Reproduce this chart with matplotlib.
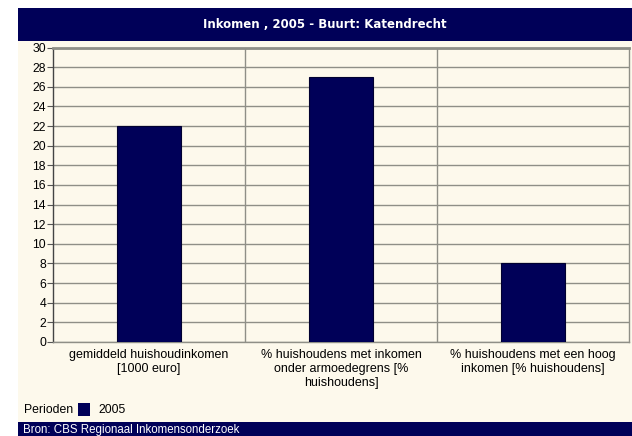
import matplotlib
matplotlib.use("Agg")
import matplotlib.pyplot as plt
from matplotlib.patches import Rectangle

categories = ["gemiddeld huishoudinkomen\n[1000 euro]",
              "% huishoudens met inkomen\nonder armoedegrens [%\nhuishoudens]",
              "% huishoudens met een hoog\ninkomen [% huishoudens]"]
values_2005 = [22, 27, 8]
yticks = list(range(0, 31, 2))
title = "Inkomen , 2005 - Buurt: Katendrecht"
legend_title = "Perioden"
series_label = "2005"
source = "Bron: CBS Regionaal Inkomensonderzoek"

W, H = 632, 436
navy = "#000058"
cream = "#FDF9EC"
grid = "#8F8F87"

fig = plt.figure(figsize=(W / 100, H / 100), dpi=100)
fig.patch.set_facecolor("white")

def px(x0, y0, x1, y1):
    return (x0 / W, 1 - y1 / H), (x1 - x0) / W, (y1 - y0) / H

for (x0, y0, x1, y1, c) in [(18, 8, 632, 41, navy), (18, 41, 632, 422, cream), (18, 422, 632, 436, navy)]:
    xy, w, h = px(x0, y0, x1, y1)
    fig.patches.append(Rectangle(xy, w, h, transform=fig.transFigure, facecolor=c, edgecolor="none", zorder=-5))

fig.text(325 / W, 1 - 24.5 / H, title, color="white", fontsize=8.5, fontweight="bold",
         family="DejaVu Sans", ha="center", va="center")
fig.text(23 / W, 1 - 430 / H, source, color="white", fontsize=8.3, family="Liberation Sans",
         ha="left", va="center")

left, right, top, bottom = 53, 629, 47.5, 342
ax = fig.add_axes([left / W, 1 - bottom / H, (right - left) / W, (bottom - top) / H])
ax.set_zorder(2)
ax.set_facecolor(cream)
x = list(range(len(categories)))
ax.bar(x, values_2005, width=0.33, color=navy, edgecolor="#000030", linewidth=0.8, zorder=3)
ax.set_xlim(-0.5, 2.5)
ax.set_ylim(0, 30)
ax.set_yticks(yticks)
ax.set_yticklabels([str(t) for t in yticks], fontsize=8.8, family="Liberation Sans")
ax.set_xticks(x)
ax.set_xticklabels(categories, fontsize=9, family="Liberation Sans", linespacing=1.2)
ax.tick_params(axis="x", length=0, pad=5)
ax.tick_params(axis="y", length=4, width=0.8, color="#555555", pad=1)
ax.yaxis.grid(True, color=grid, linewidth=1.0, zorder=1)
ax.set_axisbelow(True)
for xv in [0.5, 1.5]:
    ax.axvline(xv, color=grid, linewidth=1.0, zorder=1)
ax.spines["left"].set_color("#444444")
ax.spines["left"].set_linewidth(1.0)
ax.spines["bottom"].set_color(grid)
ax.spines["bottom"].set_linewidth(1.0)
ax.spines["top"].set_color(grid)
ax.spines["top"].set_linewidth(2.0)
ax.spines["right"].set_color(grid)
ax.spines["right"].set_linewidth(1.0)

# legend row
fig.text(24 / W, 1 - 409.5 / H, legend_title, fontsize=8.8, family="Liberation Sans", ha="left", va="center")
xy, w, h = px(78, 403, 90, 416)
fig.patches.append(Rectangle(xy, w, h, transform=fig.transFigure, facecolor=navy, edgecolor="none", zorder=2))
fig.text(98 / W, 1 - 409.5 / H, series_label, fontsize=8.8, family="Liberation Sans", ha="left", va="center")

fig.savefig("out.png", dpi=100)
